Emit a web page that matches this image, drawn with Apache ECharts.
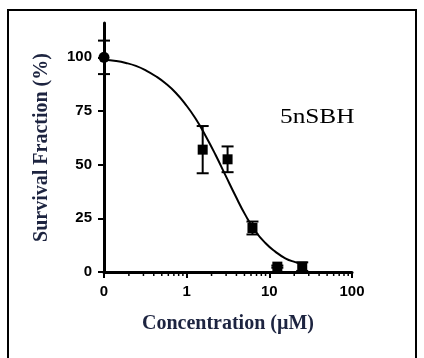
<!DOCTYPE html>
<html>
<head>
<meta charset="utf-8">
<script src="https://cdn.jsdelivr.net/npm/echarts@6/dist/echarts.min.js"></script>
<style>
  html, body { margin: 0; padding: 0; background: #fff; }
  #chart { width: 424px; height: 358px; }
</style>
</head>
<body>
<div id="chart"></div>
<script>
// concentration 0 is drawn at the start of the log axis (0.1), like GraphPad does
var conc = [0.1, 1.5625, 3.125, 6.25, 12.5, 25]
var survival = [100, 57, 52.5, 20.5, 2.5, 2.5]
var sem = [7.8, 11, 6, 3, 0.5, 2]
// fitted curve
var curveX = [0.1, 0.14, 0.184, 0.243, 0.321, 0.423, 0.558, 0.737, 0.973, 1.28, 1.69, 2.24, 2.95, 3.89, 5.14, 6.78, 8.95, 11.8, 15.6, 20.6, 25.7]
var curveY = [98.9, 98.3, 97.4, 96, 93.9, 91.2, 87.8, 83.5, 78, 71.5, 63.5, 54.5, 45, 35.5, 26.5, 19, 13.5, 9.5, 6.4, 4.6, 3.6]
var yTicks = [0, 25, 50, 75, 100]
var minorTicks = [0.2, 0.3, 0.4, 0.5, 0.6, 0.7, 0.8, 0.9, 2, 3, 4, 5, 6, 7, 8, 9, 20, 30, 40, 50, 60, 70, 80, 90]

var titleColor = '#1d2440'
var labelFont = { fontFamily: 'Liberation Sans', fontWeight: 'bold', fontSize: 15, color: '#000' }

var chart = echarts.init(document.getElementById('chart'))

var option = {
  animation: false,
  grid: { left: 104, right: 72, top: 23, bottom: 86 },
  xAxis: {
    type: 'log',
    logBase: 10,
    min: 0.1,
    max: 100,
    name: 'Concentration (µM)',
    nameLocation: 'middle',
    nameGap: 42,
    nameTextStyle: { fontFamily: 'Liberation Serif', fontWeight: 'bold', fontSize: 20, color: titleColor },
    axisLine: { lineStyle: { color: '#000', width: 3 } },
    axisTick: { length: 6, lineStyle: { color: '#000', width: 2 } },
    axisLabel: Object.assign({ margin: 12, formatter: function (v) { return v < 0.5 ? '0' : String(v) } }, labelFont),
    splitLine: { show: false }
  },
  yAxis: {
    type: 'value',
    min: 0,
    max: 116,
    name: 'Survival Fraction (%)',
    nameLocation: 'middle',
    nameGap: 52,
    nameTextStyle: { fontFamily: 'Liberation Serif', fontWeight: 'bold', fontSize: 20, color: titleColor },
    axisLine: { show: true, lineStyle: { color: '#000', width: 3 } },
    axisTick: { show: true, length: 6, customValues: yTicks, lineStyle: { color: '#000', width: 2 } },
    axisLabel: Object.assign({ margin: 12, customValues: yTicks }, labelFont),
    splitLine: { show: false }
  },
  graphic: [
    {
      type: 'rect',
      shape: { x: 8, y: 10, width: 408, height: 400 },
      style: { fill: 'none', stroke: '#000', lineWidth: 2 }
    },
    {
      type: 'text',
      left: 280,
      top: 106,
      scaleX: 1.15,
      style: { text: '5nSBH', font: '22px "Liberation Serif"', fill: '#000' }
    }
  ],
  series: [
    {
      // minor ticks of the log axis
      type: 'custom',
      data: minorTicks.map(function (v) { return [v, 0] }),
      clip: false,
      silent: true,
      renderItem: function (params, api) {
        var p = api.coord([api.value(0), 0])
        return {
          type: 'line',
          shape: { x1: p[0], y1: p[1], x2: p[0], y2: p[1] + 4 },
          style: { stroke: '#000', lineWidth: 1.5 }
        }
      }
    },
    {
      type: 'line',
      data: curveX.map(function (x, i) { return [x, curveY[i]] }),
      smooth: 0.5,
      showSymbol: false,
      lineStyle: { color: '#000', width: 2 },
      z: 3
    },
    {
      type: 'custom',
      data: conc.map(function (x, i) { return [x, survival[i], sem[i]] }),
      clip: false,
      renderItem: function (params, api) {
        var x = api.value(0), m = api.value(1), e = api.value(2)
        var hi = api.coord([x, m + e])
        var lo = api.coord([x, m - e])
        var w = 6
        var st = { stroke: '#000', lineWidth: 2 }
        return {
          type: 'group',
          children: [
            { type: 'line', shape: { x1: hi[0], y1: hi[1], x2: lo[0], y2: lo[1] }, style: st },
            { type: 'line', shape: { x1: hi[0] - w, y1: hi[1], x2: hi[0] + w, y2: hi[1] }, style: st },
            { type: 'line', shape: { x1: lo[0] - w, y1: lo[1], x2: lo[0] + w, y2: lo[1] }, style: st }
          ]
        }
      },
      z: 4
    },
    {
      type: 'scatter',
      data: conc.map(function (x, i) {
        return {
          value: [x, survival[i]],
          symbol: i === 0 ? 'circle' : 'rect',
          symbolSize: i === 0 ? 11 : 10
        }
      }),
      itemStyle: { color: '#000', opacity: 1 },
      clip: false,
      z: 5
    }
  ]
}

chart.setOption(option)
</script>
</body>
</html>
